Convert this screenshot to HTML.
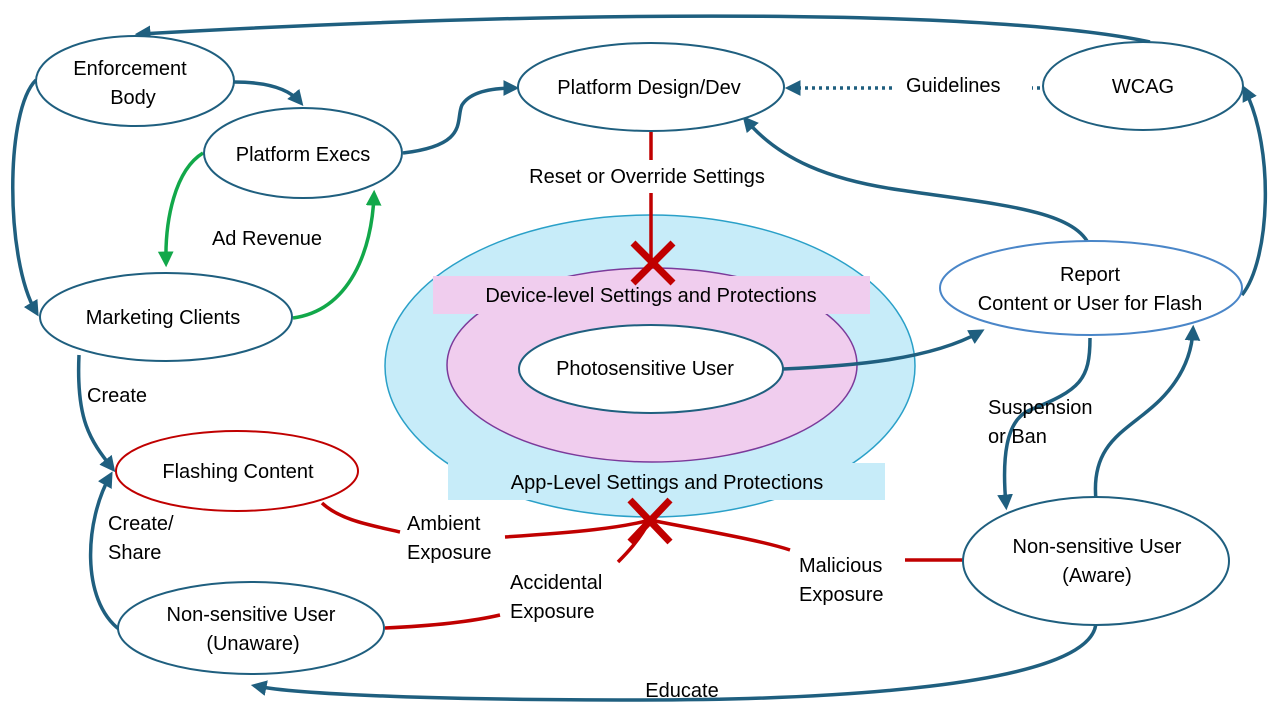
<!DOCTYPE html>
<html><head><meta charset="utf-8"><style>
body{margin:0;background:#fff}
svg text{font-family:"Liberation Sans",sans-serif;font-size:20px;fill:#000}
</style></head><body>
<svg width="1280" height="720" viewBox="0 0 1280 720">
<defs>
<marker id="ab" markerWidth="5" markerHeight="5" refX="3" refY="2.25" orient="auto" markerUnits="strokeWidth"><path d="M0,0 L4.5,2.25 L0,4.5 Z" fill="#1f5f7f"/></marker>
<marker id="ag" markerWidth="5" markerHeight="5" refX="3" refY="2.25" orient="auto" markerUnits="strokeWidth"><path d="M0,0 L4.5,2.25 L0,4.5 Z" fill="#12a84a"/></marker>
</defs>
<ellipse cx="650" cy="366" rx="265" ry="151" fill="#c7ecf9" stroke="#2aa0c8" stroke-width="1.5"/>
<ellipse cx="652" cy="365" rx="205" ry="97" fill="#f0cdee" stroke="#7b3a9a" stroke-width="1.5"/>
<ellipse cx="651" cy="369" rx="132" ry="44" fill="#fff" stroke="#1f5f7f" stroke-width="2"/>
<rect x="433" y="276" width="437" height="38" fill="#f0cdee"/>
<rect x="448" y="463" width="437" height="37" fill="#c7ecf9"/>
<text x="651" y="302" text-anchor="middle">Device-level Settings and Protections</text>
<text x="667" y="489" text-anchor="middle">App-Level Settings and Protections</text>
<text x="645" y="375" text-anchor="middle">Photosensitive User</text>

<g fill="none" stroke="#1f5f7f" stroke-width="3.5">
<path d="M1150 42 C1000 10 600 8 140 34" marker-end="url(#ab)"/>
<path d="M234 82 C270 82 290 90 300 102" marker-end="url(#ab)"/>
<path d="M36 80 C5 110 5 260 36 312" marker-end="url(#ab)"/>
<path d="M403 153 C470 145 455 120 462 105 C470 92 490 88 514 88" marker-end="url(#ab)"/>
<path d="M79 355 C76 420 90 440 112 468" marker-end="url(#ab)"/>
<path d="M120 630 C80 600 85 520 110 476" marker-end="url(#ab)"/>
<path d="M1096 620 C1100 690 800 700 640 700 C450 700 300 695 256 686" marker-end="url(#ab)"/>
<path d="M783 369 C850 366 930 360 980 332" marker-end="url(#ab)"/>
<path d="M1091 250 C1080 210 1000 205 900 190 C830 180 780 160 746 120" marker-end="url(#ab)"/>
<path d="M1242 295 C1270 260 1275 150 1245 90" marker-end="url(#ab)"/>
<path d="M1090 338 C1090 380 1080 390 1030 410 C1005 420 1002 460 1006 505" marker-end="url(#ab)"/>
<path d="M1096 500 C1090 440 1130 430 1160 400 C1185 375 1192 350 1193 330" marker-end="url(#ab)"/>
</g>
<path d="M1040 88 L1032 88" stroke="#1f5f7f" stroke-width="3.5" stroke-dasharray="3 4"/>
<path d="M892 88 L790 88" stroke="#1f5f7f" stroke-width="3.5" stroke-dasharray="3 4" fill="none" marker-end="url(#ab)"/>
<text x="906" y="92">Guidelines</text>

<g fill="none" stroke="#12a84a" stroke-width="3.5">
<path d="M203 153 C175 170 165 220 166 262" marker-end="url(#ag)"/>
<path d="M293 318 C350 310 372 250 374 195" marker-end="url(#ag)"/>
</g>

<g fill="none" stroke="#c00000" stroke-width="3.5">
<path d="M651 132 L651 160 M651 193 L651 262"/>
<path d="M322 503 C340 520 370 525 400 532"/>
<path d="M505 537 C580 532 620 528 650 520"/>
<path d="M650 520 C700 530 760 540 790 550"/>
<path d="M905 560 L965 560"/>
<path d="M650 520 C640 540 625 555 618 562"/>
<path d="M385 628 C430 626 470 622 500 615"/>
</g>
<g stroke="#c00000" stroke-width="7" stroke-linecap="butt">
<path d="M633 243 L673 283 M673 243 L633 283"/>
<path d="M630 500 L670 542 M670 500 L630 542"/>
</g>

<g fill="#fff" stroke="#1f5f7f" stroke-width="2">
<ellipse cx="135" cy="81" rx="99" ry="45"/>
<ellipse cx="303" cy="153" rx="99" ry="45"/>
<ellipse cx="651" cy="87" rx="133" ry="44"/>
<ellipse cx="1143" cy="86" rx="100" ry="44"/>
<ellipse cx="166" cy="317" rx="126" ry="44"/>
<ellipse cx="251" cy="628" rx="133" ry="46"/>
<ellipse cx="1096" cy="561" rx="133" ry="64"/>
</g>
<ellipse cx="1091" cy="288" rx="151" ry="47" fill="#fff" stroke="#4a86c8" stroke-width="2"/>
<ellipse cx="237" cy="471" rx="121" ry="40" fill="#fff" stroke="#c00000" stroke-width="2"/>

<g text-anchor="middle">
<text x="130" y="75">Enforcement</text><text x="133" y="104">Body</text>
<text x="303" y="161">Platform Execs</text>
<text x="649" y="94">Platform Design/Dev</text>
<text x="1143" y="93">WCAG</text>
<text x="163" y="324">Marketing Clients</text>
<text x="1090" y="281">Report</text><text x="1090" y="310">Content or User for Flash</text>
<text x="238" y="478">Flashing Content</text>
<text x="251" y="621">Non-sensitive User</text><text x="253" y="650">(Unaware)</text>
<text x="1097" y="553">Non-sensitive User</text><text x="1097" y="582">(Aware)</text>
<text x="647" y="183">Reset or Override Settings</text>
<text x="267" y="245">Ad Revenue</text>
<text x="682" y="697">Educate</text>
</g>
<text x="87" y="402">Create</text>
<text x="108" y="530">Create/</text><text x="108" y="559">Share</text>
<text x="407" y="530">Ambient</text><text x="407" y="559">Exposure</text>
<text x="510" y="589">Accidental</text><text x="510" y="618">Exposure</text>
<text x="799" y="572">Malicious</text><text x="799" y="601">Exposure</text>
<text x="988" y="414">Suspension</text><text x="988" y="443">or Ban</text>
</svg>
</body></html>
